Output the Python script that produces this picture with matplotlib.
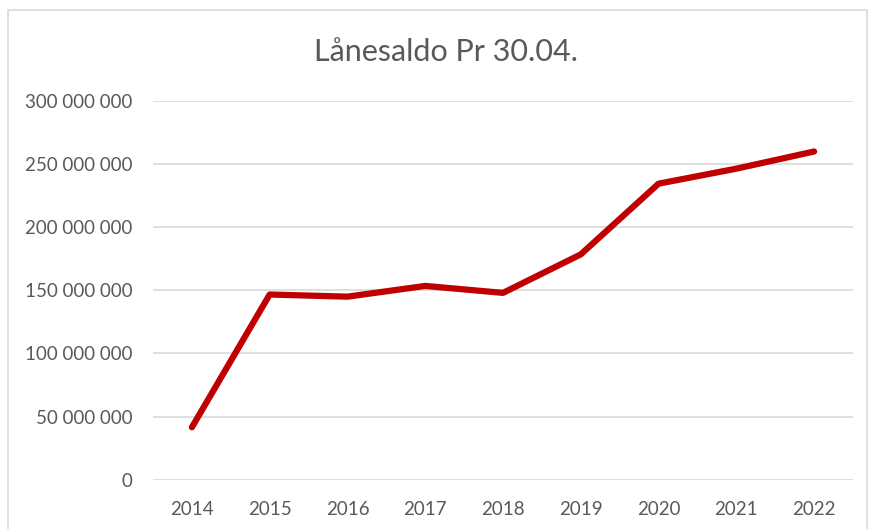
import matplotlib
matplotlib.use("Agg")
import matplotlib.pyplot as plt
from matplotlib.ticker import FuncFormatter
from matplotlib.patches import Rectangle

years = ["2014", "2015", "2016", "2017", "2018", "2019", "2020", "2021", "2022"]
values = [41.5e6, 146.7e6, 145e6, 153.5e6, 148e6, 178.5e6, 234.5e6, 246.4e6, 260e6]
yticks = [0, 50e6, 100e6, 150e6, 200e6, 250e6, 300e6]
title = "Lånesaldo Pr 30.04."

plt.rcParams['font.family'] = ['Lato', 'DejaVu Sans']
txt = '#595959'

fig = plt.figure(figsize=(8.7, 5.29), dpi=100)
fig.patch.set_facecolor('white')
fig.patches.append(Rectangle((8/870, -0.01), (867-8)/870, 1 - 10/529 + 0.01,
                             transform=fig.transFigure, fill=False,
                             edgecolor='#d9d9d9', linewidth=1.2))

ax = fig.add_axes([153/870, 1 - 479.7/529, 700/870, (479.7 - 101) / 529])
x = list(range(len(years)))
ax.plot(x, values, color='#c00000', linewidth=4.5, solid_capstyle='round',
        solid_joinstyle='round', zorder=3)
ax.set_xlim(-0.5, len(years) - 0.5)
ax.set_ylim(0, 300e6)
ax.set_yticks(yticks)
ax.yaxis.set_major_formatter(FuncFormatter(lambda v, p: f"{int(v):,}".replace(",", " ")))
ax.set_xticks(x)
ax.set_xticklabels(years)
ax.grid(axis='y', color='#d9d9d9', linewidth=1.2, zorder=0)
for s in ax.spines.values():
    s.set_visible(False)
ax.tick_params(axis='both', length=0, labelsize=13.5, colors=txt)
ax.tick_params(axis='y', pad=15)
ax.tick_params(axis='x', pad=15)

fig.text(446/870, 1 - 52/529, title, ha='center', va='center', fontsize=22, color=txt)

fig.savefig('out.png', dpi=100, facecolor='white')
